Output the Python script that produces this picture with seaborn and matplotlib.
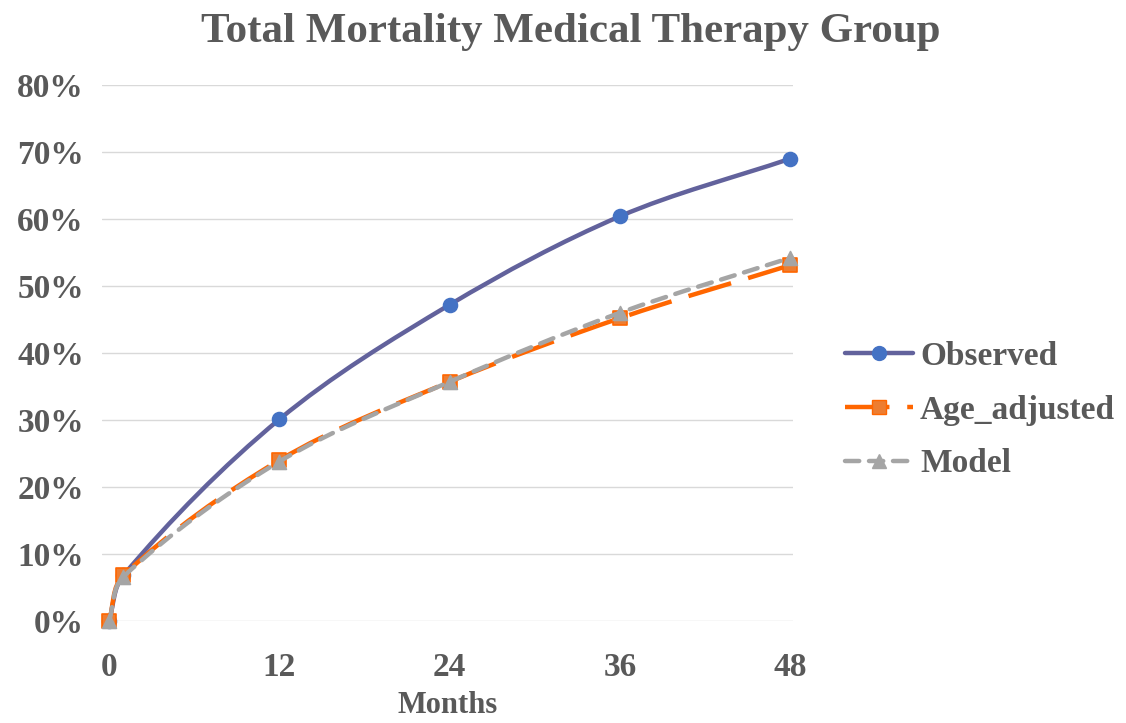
import numpy as np
import pandas as pd
import matplotlib
matplotlib.use("Agg")
import matplotlib.pyplot as plt
import seaborn as sns
from matplotlib.path import Path
from matplotlib.patches import PathPatch
from matplotlib.lines import Line2D
from matplotlib.ticker import PercentFormatter

months = [0, 1, 12, 24, 36, 48]
observed = [0.0, 0.068, 0.301, 0.472, 0.604, 0.690]
age_adjusted = [0.0, 0.068, 0.240, 0.357, 0.452, 0.531]
model = [0.0, 0.066, 0.238, 0.357, 0.460, 0.542]
x_ticks = [0, 12, 24, 36, 48]

sns.set_theme(style="white")
plt.rcParams['font.family'] = ['Liberation Serif', 'DejaVu Serif']
plt.rcParams['font.weight'] = 'bold'
txt = '#595959'

fig = plt.figure(figsize=(11.26, 7.23), dpi=100)
ax = fig.add_axes([102/1126, 1-621/723, (793-102)/1126, (621-85)/723])
ax.set_xlim(-0.5, 48.2)
ax.set_ylim(0, 0.8)


def smooth_path(xs, ys):
    # Excel style smoothed line: cubic bezier, tangents from neighbours, built in pixel space
    pts = ax.transData.transform(np.column_stack([xs, ys]))
    n = len(pts)
    tang = []
    for i in range(n):
        a = pts[max(i - 1, 0)]
        b = pts[min(i + 1, n - 1)]
        d = b - a
        tang.append(d / np.hypot(*d))
    verts = [pts[0]]
    codes = [Path.MOVETO]
    for i in range(n - 1):
        seg = np.hypot(*(pts[i + 1] - pts[i]))
        c1 = pts[i] + tang[i] * seg / 3
        c2 = pts[i + 1] - tang[i + 1] * seg / 3
        verts += [c1, c2, pts[i + 1]]
        codes += [Path.CURVE4] * 3
    verts = ax.transData.inverted().transform(np.array(verts))
    return Path(verts, codes)


series = [
    ("Observed", observed, '#62629C', '#4472C4', '#4472C4', 'o', 10, '-', 'butt'),
    ("Age_adjusted", age_adjusted, '#FF6600', '#ED7D31', '#FF6600', 's', 10, (0, (10, 4)), 'butt'),
    ("Model", model, '#A5A5A5', '#A5A5A5', '#A5A5A5', '^', 10, (0, (3.2, 2.2)), 'round'),
]

handles = []
for k, (name, vals, lc, mfc, mec, mk, ms, ls, cap) in enumerate(series):
    patch = PathPatch(smooth_path(months, vals), fill=False, edgecolor=lc, lw=3.2,
                      linestyle=ls, capstyle=cap, zorder=3 + 2 * k, clip_on=False)
    ax.add_patch(patch)
    df = pd.DataFrame({"m": months, "v": vals})
    sns.scatterplot(data=df, x="m", y="v", marker=mk, s=ms ** 2, color=mfc,
                    edgecolor=mec, linewidth=1.2, ax=ax, zorder=4 + 2 * k, clip_on=False)
    handles.append(Line2D([], [], color=lc, lw=3.2, linestyle=ls, dash_capstyle=cap,
                          marker=mk, markersize=ms, markerfacecolor=mfc, markeredgecolor=mec))

ax.set_xticks(x_ticks)
ax.set_yticks(np.arange(0, 0.81, 0.1))
ax.yaxis.set_major_formatter(PercentFormatter(1.0, decimals=0))
ax.grid(axis='y', color='#D9D9D9', lw=1)
ax.grid(axis='x', visible=False)
for s in ax.spines.values():
    s.set_visible(False)
ax.tick_params(axis='both', colors=txt, labelsize=24, length=0)
ax.tick_params(axis='y', pad=13)
ax.tick_params(axis='x', pad=22)
ax.set_xlabel("Months", color=txt, fontsize=22, fontweight='bold', labelpad=6)
ax.set_ylabel("")

fig.suptitle("Total Mortality Medical Therapy Group", x=571/1126, y=0.982,
             color=txt, fontsize=31, fontweight='bold')

fig.legend(handles, [s[0] for s in series], loc='center left',
           bbox_to_anchor=(845/1126, 1-410/723), frameon=False,
           borderpad=0, borderaxespad=0,
           fontsize=24, labelcolor=txt, handlelength=2.05, handletextpad=0.2,
           labelspacing=0.68)

fig.savefig("out.png", dpi=100)
